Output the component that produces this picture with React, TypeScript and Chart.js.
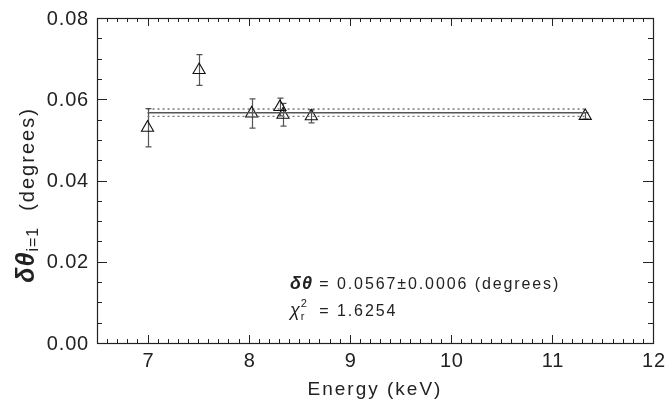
import React, { useEffect, useRef } from "react";
import { Chart, registerables } from "chart.js";

Chart.register(...registerables);

// ---- data ----
const energyKeV = [7.0, 7.51, 8.03, 8.31, 8.34, 8.62, 11.33];
const deltaTheta = [0.053, 0.0672, 0.0565, 0.0581, 0.0562, 0.0558, 0.0559];
const deltaThetaErr = [0.0047, 0.0038, 0.0036, 0.0022, 0.0028, 0.0016, 0.0008];

const fitRange = [7.0, 11.33];
const fitValue = 0.0567;
const fitUpper = 0.0576;
const fitLower = 0.0558;

const xTicks = [7, 8, 9, 10, 11, 12];
const yTicks = [0, 0.02, 0.04, 0.06, 0.08];
const xMinorStep = 0.1;
const yMinorStep = 0.005;
const xRange = [6.5, 12];
const yRange = [0, 0.08];

const annotationLine1 = ["δθ", " = 0.0567±0.0006 (degrees)"];
const annotationLine2 = ["χ", "2", "r", " = 1.6254"];
const xTitle = "Energy (keV)";
const yTitle = ["δθ", "i=1", "(degrees)"];

const FONT = "'Liberation Sans', Arial, sans-serif";
const AXIS = "#222";

const setLS = (ctx: any, v: string) => {
  ctx.letterSpacing = v;
};

const decorPlugin = {
  id: "decor",
  beforeDatasetsDraw(chart: any) {
    const { ctx } = chart;
    const xs = chart.scales.x;
    const ys = chart.scales.y;
    ctx.save();
    ctx.strokeStyle = "#555";
    ctx.lineWidth = 1.2;
    energyKeV.forEach((e, i) => {
      const px = Math.round(xs.getPixelForValue(e)) + 0.5;
      const top = ys.getPixelForValue(deltaTheta[i] + deltaThetaErr[i]);
      const bot = ys.getPixelForValue(deltaTheta[i] - deltaThetaErr[i]);
      ctx.beginPath();
      ctx.moveTo(px, top);
      ctx.lineTo(px, bot);
      ctx.moveTo(px - 3, top);
      ctx.lineTo(px + 3, top);
      ctx.moveTo(px - 3, bot);
      ctx.lineTo(px + 3, bot);
      ctx.stroke();
    });
    ctx.restore();
  },
  afterDraw(chart: any) {
    const { ctx, chartArea: a } = chart;
    const xs = chart.scales.x;
    const ys = chart.scales.y;
    ctx.save();
    // frame
    ctx.strokeStyle = AXIS;
    ctx.lineWidth = 1.2;
    ctx.strokeRect(a.left + 0.5, a.top + 0.5, a.right - a.left, a.bottom - a.top);
    // ticks (inward)
    ctx.lineWidth = 1;
    ctx.beginPath();
    const nx = Math.round((xRange[1] - xRange[0]) / xMinorStep);
    for (let k = 0; k <= nx; k++) {
      const v = xRange[0] + k * xMinorStep;
      const major = xTicks.some((t) => Math.abs(t - v) < 1e-6);
      const len = major ? 8 : 4;
      const px = Math.round(xs.getPixelForValue(v)) + 0.5;
      ctx.moveTo(px, a.bottom);
      ctx.lineTo(px, a.bottom - len);
      ctx.moveTo(px, a.top);
      ctx.lineTo(px, a.top + len);
    }
    const ny = Math.round((yRange[1] - yRange[0]) / yMinorStep);
    for (let k = 0; k <= ny; k++) {
      const v = yRange[0] + k * yMinorStep;
      const major = yTicks.some((t) => Math.abs(t - v) < 1e-9);
      const len = major ? 10 : 5;
      const py = Math.round(ys.getPixelForValue(v)) + 0.5;
      ctx.moveTo(a.left, py);
      ctx.lineTo(a.left + len, py);
      ctx.moveTo(a.right, py);
      ctx.lineTo(a.right - len, py);
    }
    ctx.stroke();

    // tick labels
    ctx.fillStyle = AXIS;
    setLS(ctx, "0.8px");
    ctx.font = `20px ${FONT}`;
    ctx.textAlign = "center";
    ctx.textBaseline = "top";
    xTicks.forEach((t) => {
      ctx.fillText(String(t), xs.getPixelForValue(t) + 1, a.bottom + 8);
    });
    ctx.textAlign = "right";
    ctx.textBaseline = "middle";
    yTicks.forEach((t) => {
      ctx.fillText(t.toFixed(2), a.left - 8, ys.getPixelForValue(t) + 1);
    });

    // x title
    ctx.font = `19px ${FONT}`;
    setLS(ctx, "2px");
    ctx.textAlign = "center";
    ctx.textBaseline = "alphabetic";
    ctx.fillText(xTitle, 375, 395);

    // y title (rotated)
    ctx.save();
    ctx.translate(34, 195);
    ctx.rotate(-Math.PI / 2);
    ctx.textAlign = "left";
    const f1 = `italic bold 25px ${FONT}`;
    const f2 = `16px ${FONT}`;
    const f3 = `20px ${FONT}`;
    setLS(ctx, "1px");
    ctx.font = f1;
    const w1 = ctx.measureText(yTitle[0]).width;
    ctx.font = f2;
    setLS(ctx, "1px");
    const w2 = ctx.measureText(yTitle[1]).width;
    ctx.font = f3;
    setLS(ctx, "2px");
    const w3 = ctx.measureText(yTitle[2]).width;
    const gap = 16;
    const total = w1 + w2 + gap + w3;
    let x0 = -total / 2;
    ctx.font = f1;
    setLS(ctx, "1px");
    ctx.fillText(yTitle[0], x0, 0);
    x0 += w1;
    ctx.font = f2;
    setLS(ctx, "1px");
    ctx.fillText(yTitle[1], x0, 4);
    x0 += w2 + gap;
    ctx.font = f3;
    setLS(ctx, "2px");
    ctx.fillText(yTitle[2], x0, 0);
    ctx.restore();

    // annotation
    ctx.textAlign = "left";
    ctx.textBaseline = "alphabetic";
    const ax = 290;
    ctx.font = `italic bold 18px ${FONT}`;
    setLS(ctx, "1px");
    ctx.fillText(annotationLine1[0], ax, 289);
    const eqX = ax + ctx.measureText(annotationLine1[0]).width;
    ctx.font = `16px ${FONT}`;
    setLS(ctx, "1.9px");
    ctx.fillText(annotationLine1[1], eqX, 289);

    ctx.font = `italic 18px ${FONT}`;
    setLS(ctx, "0px");
    ctx.fillText(annotationLine2[0], ax, 316);
    const wc = ctx.measureText(annotationLine2[0]).width;
    ctx.font = `11px ${FONT}`;
    ctx.fillText(annotationLine2[1], ax + wc + 1, 307);
    ctx.fillText(annotationLine2[2], ax + wc + 1, 320);
    ctx.font = `16px ${FONT}`;
    setLS(ctx, "1.9px");
    ctx.fillText(annotationLine2[3], eqX, 316);
    ctx.restore();
  },
};

export default function App() {
  const ref = useRef<HTMLCanvasElement | null>(null);
  useEffect(() => {
    document.body.style.margin = "0";
    if (!ref.current) return;
    const chart = new Chart(ref.current, {
      type: "scatter",
      data: {
        datasets: [
          {
            type: "line",
            data: fitRange.map((x) => ({ x, y: fitValue })),
            borderColor: "#555",
            borderWidth: 1.5,
            pointRadius: 0,
          },
          {
            type: "line",
            data: fitRange.map((x) => ({ x, y: fitUpper })),
            borderColor: "#333",
            borderWidth: 1.2,
            borderDash: [2, 3],
            pointRadius: 0,
          },
          {
            type: "line",
            data: fitRange.map((x) => ({ x, y: fitLower })),
            borderColor: "#777",
            borderWidth: 1.2,
            borderDash: [2, 3],
            pointRadius: 0,
          },
          {
            data: energyKeV.map((x, i) => ({ x, y: deltaTheta[i] })),
            pointStyle: "triangle",
            pointRadius: 7,
            pointBorderColor: "#111",
            pointBackgroundColor: "rgba(0,0,0,0)",
            pointBorderWidth: 1.1,
          },
        ],
      },
      options: {
        animation: false,
        responsive: false,
        layout: { padding: { top: 18, right: 12, left: 0, bottom: 0 } },
        plugins: { legend: { display: false }, tooltip: { enabled: false } },
        scales: {
          x: {
            type: "linear",
            min: xRange[0],
            max: xRange[1],
            grid: { display: false },
            border: { display: false },
            ticks: { display: false },
            afterFit: (s: any) => {
              s.height = 62;
            },
          },
          y: {
            type: "linear",
            min: yRange[0],
            max: yRange[1],
            grid: { display: false },
            border: { display: false },
            ticks: { display: false },
            afterFit: (s: any) => {
              s.width = 97;
            },
          },
        },
      },
      plugins: [decorPlugin],
    });
    return () => chart.destroy();
  }, []);
  return <canvas ref={ref} width={665} height={405} style={{ display: "block" }} />;
}
